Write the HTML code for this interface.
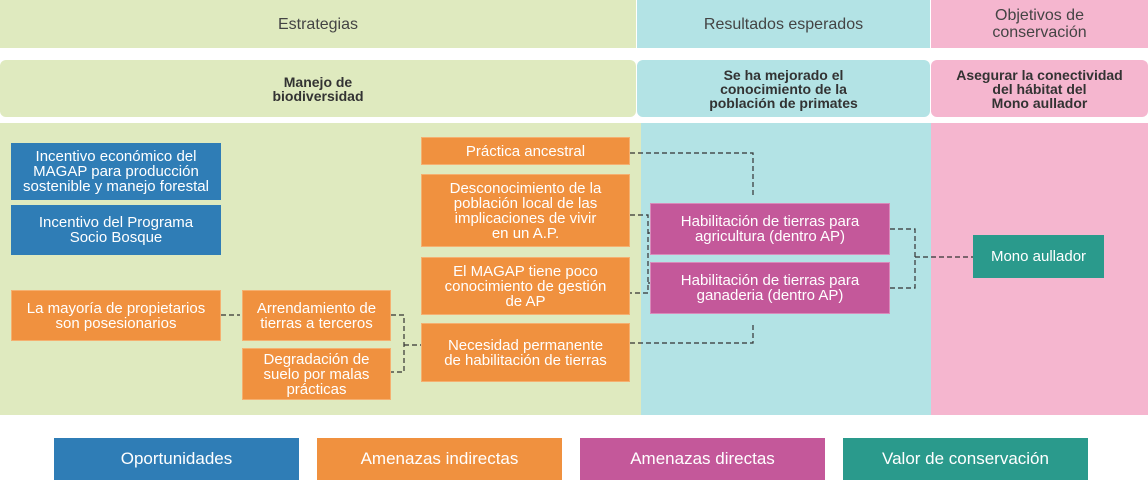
<!DOCTYPE html><html><head><style>
body{margin:0;width:1148px;height:481px;position:relative;background:#fff;font-family:"Liberation Sans",sans-serif;overflow:hidden}
div{position:absolute;box-sizing:border-box;display:flex;align-items:center;justify-content:center;text-align:center}
.h{color:#444;font-size:16px;line-height:17px}
.r{border-radius:6px;color:#333;font-weight:bold;font-size:14px;line-height:14px}
.b{color:#fff;font-size:15px;line-height:15px}
.o{background:#f0913f;border:1px solid #f5b070}
.bl{background:#2f7db6}
.m{background:#c4589a;border:1px solid #d98bbb}
.lg{color:#fff;font-size:17px}
</style></head><body>
<div class="h" style="left:0;top:0;width:636px;height:48px;background:#dfeabf">Estrategias</div>
<div class="h" style="left:637px;top:0;width:293px;height:48px;background:#b3e3e5">Resultados esperados</div>
<div class="h" style="left:931px;top:0;width:217px;height:48px;background:#f5b6cf">Objetivos de<br>conservación</div>
<div class="r" style="left:0;top:60px;width:636px;height:57px;background:#dfeabf">Manejo de<br>biodiversidad</div>
<div class="r" style="left:637px;top:60px;width:293px;height:57px;background:#b3e3e5">Se ha mejorado el<br>conocimiento de la<br>población de primates</div>
<div class="r" style="left:931px;top:60px;width:217px;height:57px;background:#f5b6cf">Asegurar la conectividad<br>del hábitat del<br>Mono aullador</div>
<div style="left:0;top:123px;width:641px;height:292px;background:#dfeabf"></div>
<div style="left:641px;top:123px;width:290px;height:292px;background:#b3e3e5"></div>
<div style="left:931px;top:123px;width:217px;height:292px;background:#f5b6cf"></div>
<svg style="position:absolute;left:0;top:0" width="1148" height="481"><g fill="none" stroke="#333" stroke-dasharray="5,3" stroke-width="1.2">
<path d="M221 315H240M391 315H404V372H391M404 345H421"/>
<path d="M630 153H753V196"/>
<path d="M630 215H648V293H630M648 233H650M648 283H650"/>
<path d="M630 343H753V322"/>
<path d="M890 229H915V288H890M915 257H973"/>
</g></svg>
<div class="b bl" style="left:11px;top:143px;width:210px;height:57px">Incentivo económico del<br>MAGAP para producción<br>sostenible y manejo forestal</div>
<div class="b bl" style="left:11px;top:205px;width:210px;height:50px">Incentivo del Programa<br>Socio Bosque</div>
<div class="b o" style="left:11px;top:290px;width:210px;height:51px">La mayoría de propietarios<br>son posesionarios</div>
<div class="b o" style="left:242px;top:290px;width:149px;height:51px">Arrendamiento de<br>tierras a terceros</div>
<div class="b o" style="left:242px;top:348px;width:149px;height:52px">Degradación de<br>suelo por malas<br>prácticas</div>
<div class="b o" style="left:421px;top:137px;width:209px;height:28px">Práctica ancestral</div>
<div class="b o" style="left:421px;top:174px;width:209px;height:73px">Desconocimiento de la<br>población local de las<br>implicaciones de vivir<br>en un A.P.</div>
<div class="b o" style="left:421px;top:257px;width:209px;height:58px">El MAGAP tiene poco<br>conocimiento de gestión<br>de AP</div>
<div class="b o" style="left:421px;top:323px;width:209px;height:59px">Necesidad permanente<br>de habilitación de tierras</div>
<div class="b m" style="left:650px;top:203px;width:240px;height:52px">Habilitación de tierras para<br>agricultura (dentro AP)</div>
<div class="b m" style="left:650px;top:262px;width:240px;height:52px">Habilitación de tierras para<br>ganaderia (dentro AP)</div>
<div class="b" style="left:973px;top:235px;width:131px;height:43px;background:#2a9a8c">Mono aullador</div>
<div class="lg" style="left:54px;top:438px;width:245px;height:42px;background:#2f7db6">Oportunidades</div>
<div class="lg" style="left:317px;top:438px;width:245px;height:42px;background:#f0913f">Amenazas indirectas</div>
<div class="lg" style="left:580px;top:438px;width:245px;height:42px;background:#c4589a">Amenazas directas</div>
<div class="lg" style="left:843px;top:438px;width:245px;height:42px;background:#2a9a8c">Valor de conservación</div>
</body></html>
